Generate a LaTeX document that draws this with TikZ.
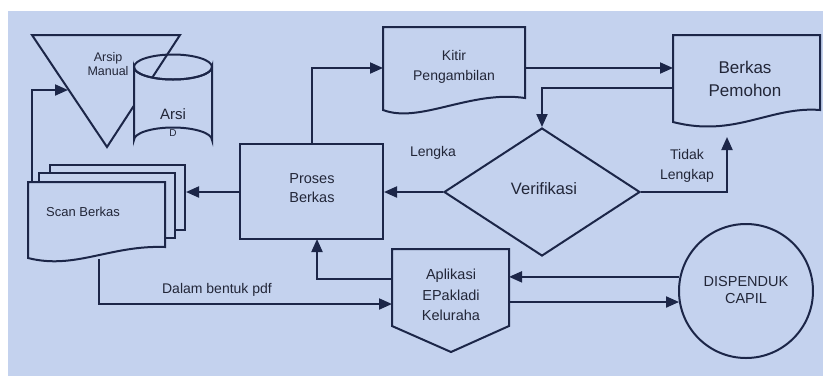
\documentclass[tikz,border=0pt]{standalone}
\usepackage{fontspec}
\setmainfont{Liberation Sans}
\usetikzlibrary{arrows.meta,shapes.geometric}

\definecolor{paper}{RGB}{196,210,238}
\definecolor{ink}{RGB}{28,38,72}
\definecolor{txt}{RGB}{34,38,56}

\begin{document}
\begin{tikzpicture}[x=1pt,y=-1pt,
  shp/.style={draw=ink, line width=2pt, fill=paper, line join=miter},
  flow/.style={ink, line width=2pt, -{Triangle[length=13pt,width=11pt]}},
  lbl/.style={text=txt, align=center, inner sep=0pt, font=\fontsize{14}{20}\selectfont}]

\useasboundingbox (0,0) rectangle (823,376);
\fill[white] (0,0) rectangle (823,376);
\fill[paper] (8,11) rectangle (823,376);

% arsip manual
\draw[shp] (32,35) -- (180,35) -- (107,147) -- cycle;
\node[lbl, font=\fontsize{12.5}{14}\selectfont] (arsipm) at (108,64) {Arsip\\Manual};

% arsip digital
\draw[shp] (134,67) -- (134,140) arc[start angle=180,end angle=360,x radius=39,y radius=12.5]
  -- (212,67) arc[start angle=0,end angle=180,x radius=39,y radius=12.5] -- cycle;
\draw[ink, line width=2pt] (173,67) ellipse [x radius=39, y radius=12.5];
\node[lbl, font=\fontsize{15}{17}\selectfont] (arsipd) at (173,123) {Arsi\\{\fontsize{10}{12}\selectfont D}};

% scan berkas
\draw[shp] (50,165) rectangle (185,230);
\draw[shp] (39,173) rectangle (175,238);
\draw[shp] (28,182) -- (165,182) -- (165,247) .. controls (110,245) and (75,270) .. (28,258) -- cycle;
\node[lbl, font=\fontsize{13}{15}\selectfont] (scan) at (83,212) {Scan Berkas};

% proses berkas
\node[shp, minimum width=143pt, minimum height=95pt, inner sep=0pt] (proses) at (311.5,191.5) {};
\node[lbl, font=\fontsize{14.5}{19}\selectfont] (prosest) at (312,188) {Proses\\Berkas};

% kitir pengambilan
\draw[shp] (383,27) -- (525,27) -- (525,98) .. controls (470,90) and (420,124) .. (383,110) -- cycle;
\node[lbl] (kitir) at (454,67) {Kitir\\Pengambilan};

% berkas pemohon
\draw[shp] (673,35) -- (820,35) -- (820,110) .. controls (770,106) and (735,138) .. (673,122) -- cycle;
\node[lbl, font=\fontsize{17}{23}\selectfont] (berkas) at (745,79) {Berkas\\Pemohon};

% verifikasi
\node[shp, diamond, minimum width=196pt, minimum height=128pt, inner sep=0pt] (verif) at (542,192) {};
\node[lbl, font=\fontsize{16.5}{18}\selectfont] (veriftxt) at (544,189) {Verifikasi};

% aplikasi
\draw[shp] (392,249) -- (509,249) -- (509,326) -- (451,352) -- (392,326) -- cycle;
\node[lbl, font=\fontsize{14.5}{20.5}\selectfont] (aplikasi) at (451,295) {Aplikasi\\EPakladi\\Keluraha};

% dispenduk
\node[shp, circle, minimum size=134pt, inner sep=0pt] (dispen) at (746,291) {};
\node[lbl, font=\fontsize{14.5}{16.5}\selectfont] (dispentxt) at (746,290) {DISPENDUK\\CAPIL};

% titik sambung
\coordinate (scanup) at (32,182);
\coordinate (arsipin) at (68,90);
\coordinate (scanin) at (186,192);
\coordinate (scanout) at (99,259);
\coordinate (aplpdf) at (392,304);
\coordinate (kitirin) at (383,68);
\coordinate (kitirout) at (525,68);
\coordinate (berkasin) at (673,68);
\coordinate (berkasout) at (673,88);
\coordinate (berkasbot) at (727,137);
\coordinate (aplout) at (392,279);
\coordinate (prosesbot) at (317,239);
\coordinate (aplin) at (509,277);
\coordinate (aplkirim) at (509,302);

% alur
\draw[flow] (scanup) |- (arsipin);
\draw[flow] (proses.west |- scanin) -- (scanin);
\draw[flow] (scanout) |- (aplpdf);
\draw[flow] (proses.north) |- (kitirin);
\draw[flow] (kitirout) -- (berkasin);
\draw[flow] (berkasout) -| (verif.north);
\draw[flow] (verif.west) -- (proses.east |- verif.west);
\draw[flow] (verif.east) -| (berkasbot);
\draw[flow] (aplout) -| (prosesbot);
\draw[flow] (dispen.168) -- (dispen.168 -| aplin);
\draw[flow] (aplkirim) -- (aplkirim -| dispen.190);

\node[lbl] (pdf) at (217,290) {Dalam bentuk pdf};
\node[lbl] (lengka) at (433,153) {Lengka};
\node[lbl] (tidak) at (687,166) {Tidak\\Lengkap};

\end{tikzpicture}
\end{document}
